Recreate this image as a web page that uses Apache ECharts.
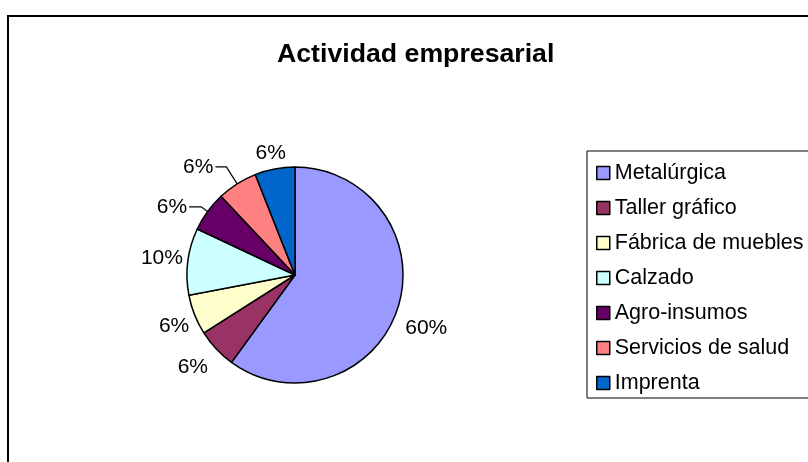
<!DOCTYPE html>
<html lang="es">
<head>
    <meta charset="utf-8">
    <title>Actividad empresarial</title>
    <script src="https://cdn.jsdelivr.net/npm/echarts@6/dist/echarts.min.js"></script>
    <style>
        html, body { margin: 0; padding: 0; background: #fff; }
        #chart { width: 808px; height: 462px; }
    </style>
</head>
<body>
<div id="chart"></div>
<script>
// datos
var categorias = ['Metalúrgica', 'Taller gráfico', 'Fábrica de muebles', 'Calzado', 'Agro-insumos', 'Servicios de salud', 'Imprenta'];
var porcentajes = [60, 6, 6, 10, 6, 6, 6];
var colores = ['#9999FF', '#993366', '#FFFFCC', '#CCFFFF', '#660066', '#FF8080', '#0066CC'];

// lineas guia solo en dos rebanadas (como en el original)
var guias = {
    4: {show: true, length: 8, length2: 12},
    5: {show: true, length: 20, length2: 11}
};
// pequeños ajustes de posicion de etiquetas, estilo Excel
var desplaz = {
    0: [-4, 17],
    1: [1, 11],
    2: [6, 8],
    3: [7, -2],
    6: [15, -6]
};

var font = 'Liberation Sans, Arial, sans-serif';
var myChart = echarts.init(document.getElementById('chart'));

var datos = [];
for (var i = 0; i < categorias.length; i++) {
    var d = {
        name: categorias[i],
        value: porcentajes[i],
        itemStyle: {color: colores[i]}
    };
    if (guias[i]) d.labelLine = guias[i];
    if (desplaz[i]) d.label = {offset: desplaz[i]};
    datos.push(d);
}

myChart.setOption({
    animation: false,
    graphic: [{
        type: 'rect',
        shape: {x: 8, y: 16, width: 900, height: 600},
        style: {fill: 'none', stroke: '#000', lineWidth: 2},
        silent: true
    }],
    title: {
        text: 'Actividad empresarial',
        left: 277,
        top: 41,
        padding: 0,
        textStyle: {fontFamily: font, fontSize: 26.7, fontWeight: 'bold', color: '#000'}
    },
    legend: {
        orient: 'vertical',
        left: 587,
        top: 151,
        padding: [11, 60, 4, 9],
        itemGap: 13,
        itemWidth: 13,
        itemHeight: 13,
        icon: 'rect',
        borderColor: '#000',
        borderWidth: 1,
        itemStyle: {borderColor: '#000', borderWidth: 1.5},
        textStyle: {fontFamily: font, fontSize: 21.5, color: '#000', lineHeight: 21},
        data: categorias
    },
    series: [{
        type: 'pie',
        center: [295, 275],
        radius: 108,
        startAngle: 90,
        clockwise: true,
        avoidLabelOverlap: false,
        percentPrecision: 0,
        itemStyle: {borderColor: '#000', borderWidth: 1.5},
        label: {
            show: true,
            position: 'outside',
            formatter: '{d}%',
            fontFamily: font,
            fontSize: 21,
            color: '#000',
            distanceToLabelLine: 2
        },
        labelLine: {
            show: false,
            length: 10,
            length2: 0,
            lineStyle: {color: '#000', width: 1.2}
        },
        emphasis: {disabled: true},
        data: datos
    }]
});
window.onresize = myChart.resize;
</script>
</body>
</html>
